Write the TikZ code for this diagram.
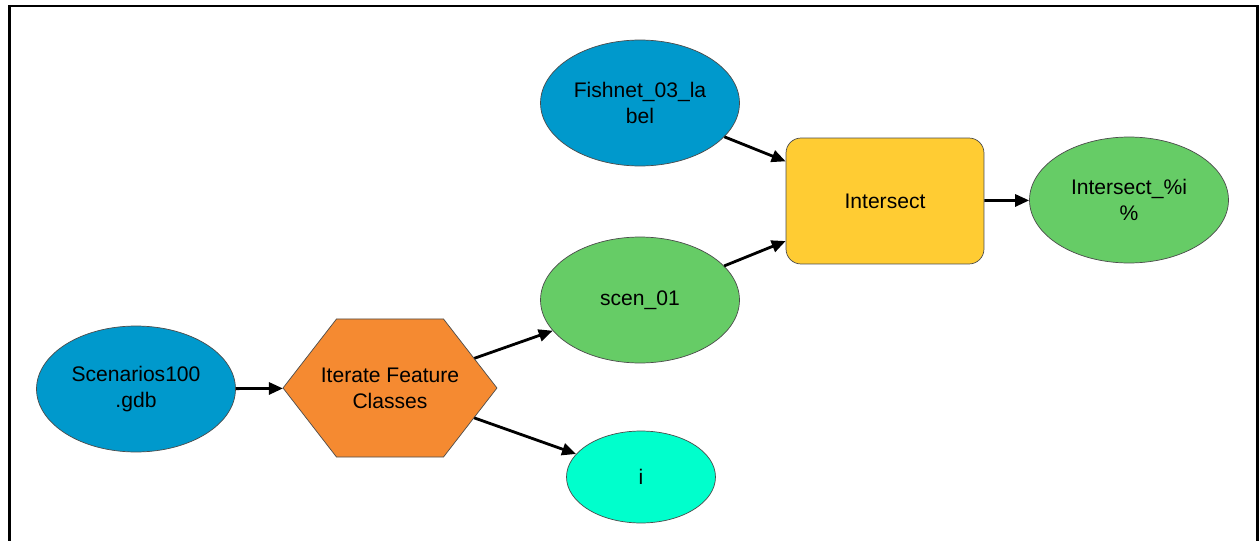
\documentclass[tikz,border=0pt]{standalone}
\usepackage{fontspec}
\setmainfont{Liberation Sans}
\usetikzlibrary{shapes.geometric,arrows.meta}
\definecolor{dataBlue}{RGB}{0,153,204}
\definecolor{iterOrange}{RGB}{245,138,49}
\definecolor{toolYellow}{RGB}{255,204,51}
\definecolor{outGreen}{RGB}{102,204,102}
\definecolor{varCyan}{RGB}{0,255,204}
\begin{document}
\begin{tikzpicture}[
    x=0.02cm, y=-0.02cm,
    every node/.style={font=\fontsize{12}{14.7}\selectfont, align=center, draw=black!70, line width=0.4pt, inner sep=0pt},
    data/.style={ellipse, minimum width=3.98cm, minimum height=2.52cm},
    tool/.style={rectangle, rounded corners=0.3cm, fill=toolYellow, minimum width=3.96cm, minimum height=2.52cm},
    iterator/.style={regular polygon, regular polygon sides=6, minimum size=4.28cm, yscale=0.745, transform shape, fill=iterOrange},
    flow/.style={draw, -{Triangle[length=0.28cm,width=0.24cm]}, line width=1.6pt}
]
\useasboundingbox (0,0) rectangle (1259,541);
\draw[line width=0.06cm] (9.5,545) -- (9.5,6) -- (1257,6) -- (1257,545);

\node[data, fill=dataBlue] (gdb) at (136,389) {Scenarios100\\.gdb};
\node[iterator] (iter) at (390,388) {};
\node[draw=none] (iterlabel) at (iter.center) {Iterate Feature\\Classes};
\node[data, fill=outGreen] (scen) at (640,300) {scen\_01};
\node[data, fill=varCyan, minimum width=2.98cm, minimum height=1.84cm] (ivar) at (641,477) {i};
\node[data, fill=dataBlue] (fishnet) at (640,103) {Fishnet\_03\_la\\bel};
\node[tool] (intersect) at (885,201) {Intersect};
\node[data, fill=outGreen] (out) at (1129,200) {Intersect\_\%i\\\%};

\draw[flow] (gdb) -- (iter);
\draw[flow] (iter) -- (scen);
\draw[flow] (iter) -- (ivar);
\draw[flow] (fishnet) -- (intersect);
\draw[flow] (scen) -- (intersect);
\draw[flow] (intersect) -- (out);
\end{tikzpicture}
\end{document}
